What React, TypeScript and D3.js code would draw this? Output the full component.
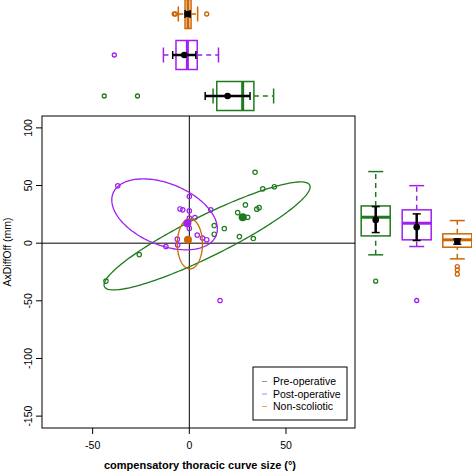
import React from "react";
import * as d3 from "d3";

const groups = ["Pre-operative", "Post-operative", "Non-scoliotic"];
const colors = ["#1f7a1f", "#a020f0", "#cd6600"];

// scatter points (compensatory thoracic curve size, AxDiffOff)
const preX = [34.0, 38.0, 44.0, 29.0, 25.0, 34.9, 36.1, 30.2, 12.9, 18.1, 12.9, 25.9, 33.1, -25.9, -43.1];
const preY = [61.5, 47.1, 49.0, 33.2, 26.5, 29.5, 30.8, 22.5, 15.3, 12.7, 7.8, 5.7, 4.0, -9.9, -32.9];
const postX = [-37.0, 0, -4.8, -3.4, 0, 11.1, 0, 2.9, 0, 4.1, 6.8, 9.0, -6.2, -6.0, -12.1, 15.9];
const postY = [49.7, 40.4, 29.7, 28.9, 28.0, 28.9, 21.7, 22.2, 12.8, 7.0, 4.5, 3.0, 3.5, -1.5, -2.9, -49.7];

// box stats: [lower whisker, q1, median, q3, upper whisker]
const xBox = [
  [12.3, 14.2, 27.6, 33.4, 43.6],
  [-13.4, -6.9, -1.0, 4.1, 15.1],
  [-5.7, -2.2, -0.7, 0.9, 4.3],
];
const xOutliers = [[-44.0, -26.8], [-38.8], [-7.8, -7.2, 9.0]];
const xMean = [19.8, -2.6, -0.8];
const xErr = [[8.2, 31.4], [-8.6, 3.4], [-2.2, 0.4]];

const yBox = [
  [-10.1, 6.3, 22.5, 32.3, 62.1],
  [-2.9, 2.9, 17.3, 28.9, 49.9],
  [-13.6, -3.5, 2.9, 8.1, 19.6],
];
const yOutliers = [[-33.0], [-49.7], [-20.3, -23.1, -26.9]];
const yMean = [20.2, 13.9, 1.4];
const yErr = [[9.2, 31.7], [2.3, 25.4], [-0.9, 3.7]];

// ellipses: center, first and second semi-axis vectors (data units)
const ellCenter = [[9.2, 6.3], [-12.8, 25.0], [0.3, -0.6]];
const ellV1 = [[53.3, 42.5], [27.3, -12.5], [6.5, 0]];
const ellV2 = [[0, 19.7], [0, 28.1], [0, 21.7]];

const xTicks = [-50, 0, 50];
const yTicks = [-150, -100, -50, 0, 50, 100];

const W = 472, H = 472;
const L = 42, R = 355, T = 116, B = 428;
const FONT = "'Liberation Sans', Arial, Helvetica, sans-serif";

export default function App() {
  const x = d3.scaleLinear().domain([-76.2, 85.7]).range([L, R]);
  const y = d3.scaleLinear().domain([-160.3, 110.3]).range([B, T]);
  const topY = [96, 55, 14];
  const rightX = [375.7, 416.7, 457.3];
  const half = 14.5;
  const cap = 7.5;

  const ellPath = (i: number) => {
    const ts = d3.range(0, 2 * Math.PI + 0.001, Math.PI / 90);
    const line = d3
      .line<number>()
      .x((t) => x(ellCenter[i][0] + Math.cos(t) * ellV1[i][0] + Math.sin(t) * ellV2[i][0]))
      .y((t) => y(ellCenter[i][1] + Math.cos(t) * ellV1[i][1] + Math.sin(t) * ellV2[i][1]))
      .curve(d3.curveLinearClosed);
    return line(ts) || "";
  };

  const points = [
    preX.map((v, k) => [v, preY[k]]),
    postX.map((v, k) => [v, postY[k]]),
  ];

  return (
    <svg width={W} height={H} style={{ position: "absolute", left: 0, top: 0, background: "#fff" }} fontFamily={FONT}>
      {/* top horizontal boxplots */}
      {groups.map((g, i) => {
        const s = xBox[i];
        const cy = topY[i];
        const c = colors[i];
        return (
          <g key={"tb" + i}>
            <line x1={x(s[0])} x2={x(s[1])} y1={cy} y2={cy} stroke={c} strokeWidth={1.5} strokeDasharray="5,4" />
            <line x1={x(s[3])} x2={x(s[4])} y1={cy} y2={cy} stroke={c} strokeWidth={1.5} strokeDasharray="5,4" />
            <line x1={x(s[0])} x2={x(s[0])} y1={cy - cap} y2={cy + cap} stroke={c} strokeWidth={1.5} />
            <line x1={x(s[4])} x2={x(s[4])} y1={cy - cap} y2={cy + cap} stroke={c} strokeWidth={1.5} />
            <rect x={x(s[1])} y={cy - half} width={x(s[3]) - x(s[1])} height={2 * half} fill="none" stroke={c} strokeWidth={1.5} />
            <line x1={x(s[2])} x2={x(s[2])} y1={cy - half} y2={cy + half} stroke={c} strokeWidth={3} />
            {xOutliers[i].map((o, k) => (
              <circle key={k} cx={x(o)} cy={cy} r={2} fill="none" stroke={c} strokeWidth={1.3} />
            ))}
            <line x1={x(xErr[i][0])} x2={x(xErr[i][1])} y1={cy} y2={cy} stroke="#000" strokeWidth={2.5} />
            <line x1={x(xErr[i][0])} x2={x(xErr[i][0])} y1={cy - 4} y2={cy + 4} stroke="#000" strokeWidth={1.5} />
            <line x1={x(xErr[i][1])} x2={x(xErr[i][1])} y1={cy - 4} y2={cy + 4} stroke="#000" strokeWidth={1.5} />
            <circle cx={x(xMean[i])} cy={cy} r={3.3} fill="#000" />
          </g>
        );
      })}

      {/* right vertical boxplots */}
      {groups.map((g, i) => {
        const s = yBox[i];
        const cx = rightX[i];
        const c = colors[i];
        return (
          <g key={"rb" + i}>
            <line y1={y(s[0])} y2={y(s[1])} x1={cx} x2={cx} stroke={c} strokeWidth={1.5} strokeDasharray="5,4" />
            <line y1={y(s[3])} y2={y(s[4])} x1={cx} x2={cx} stroke={c} strokeWidth={1.5} strokeDasharray="5,4" />
            <line y1={y(s[0])} y2={y(s[0])} x1={cx - cap} x2={cx + cap} stroke={c} strokeWidth={1.5} />
            <line y1={y(s[4])} y2={y(s[4])} x1={cx - cap} x2={cx + cap} stroke={c} strokeWidth={1.5} />
            <rect x={cx - half} y={y(s[3])} width={2 * half} height={y(s[1]) - y(s[3])} fill="none" stroke={c} strokeWidth={1.5} />
            <line y1={y(s[2])} y2={y(s[2])} x1={cx - half} x2={cx + half} stroke={c} strokeWidth={3} />
            {yOutliers[i].map((o, k) => (
              <circle key={k} cy={y(o)} cx={cx} r={2} fill="none" stroke={c} strokeWidth={1.3} />
            ))}
            <line y1={y(yErr[i][0])} y2={y(yErr[i][1])} x1={cx} x2={cx} stroke="#000" strokeWidth={2.5} />
            <line y1={y(yErr[i][0])} y2={y(yErr[i][0])} x1={cx - 4} x2={cx + 4} stroke="#000" strokeWidth={1.5} />
            <line y1={y(yErr[i][1])} y2={y(yErr[i][1])} x1={cx - 4} x2={cx + 4} stroke="#000" strokeWidth={1.5} />
            <circle cy={y(yMean[i])} cx={cx} r={3.3} fill="#000" />
          </g>
        );
      })}

      {/* main panel */}
      <line x1={L} x2={R} y1={y(0)} y2={y(0)} stroke="#000" strokeWidth={1} />
      <line x1={x(0)} x2={x(0)} y1={T} y2={B} stroke="#000" strokeWidth={1} />
      {points.map((pts, i) =>
        pts.map((p, k) => (
          <circle key={i + "-" + k} cx={x(p[0])} cy={y(p[1])} r={2.2} fill="none" stroke={colors[i]} strokeWidth={1.2} />
        ))
      )}
      {groups.map((g, i) => (
        <path key={"e" + i} d={ellPath(i)} fill="none" stroke={colors[i]} strokeWidth={1.3} />
      ))}
      {groups.map((g, i) => (
        <circle key={"m" + i} cx={x(xBox[i][2])} cy={y(yBox[i][2])} r={4} fill={colors[i]} />
      ))}
      <rect x={L} y={T} width={R - L} height={B - T} fill="none" stroke="#000" strokeWidth={1} />

      {/* axes */}
      {xTicks.map((t) => (
        <g key={"xt" + t}>
          <line x1={x(t)} x2={x(t)} y1={B} y2={B + 6} stroke="#000" />
          <text x={x(t)} y={B + 21} fontSize={10.5} textAnchor="middle">{t}</text>
        </g>
      ))}
      {yTicks.map((t) => (
        <g key={"yt" + t}>
          <line x1={L - 6} x2={L} y1={y(t)} y2={y(t)} stroke="#000" />
          <text transform={`translate(${L - 10},${y(t)}) rotate(-90)`} fontSize={10.5} textAnchor="middle">{t}</text>
        </g>
      ))}
      <text x={200} y={469} fontSize={11} fontWeight="bold" textAnchor="middle">
        compensatory thoracic curve size (°)
      </text>
      <text transform={`translate(11,252) rotate(-90)`} fontSize={10.5} textAnchor="middle">AxDiffOff (mm)</text>

      {/* legend */}
      <rect x={253} y={367} width={94} height={53} fill="#fff" stroke="#000" strokeWidth={1} />
      {groups.map((g, i) => (
        <g key={"lg" + i}>
          <line x1={262} x2={267} y1={381.5 + i * 12.5} y2={381.5 + i * 12.5} stroke={colors[i]} strokeWidth={1} opacity={0.6} />
          <text x={273} y={385.3 + i * 12.5} fontSize={10.5}>{g}</text>
        </g>
      ))}
    </svg>
  );
}
